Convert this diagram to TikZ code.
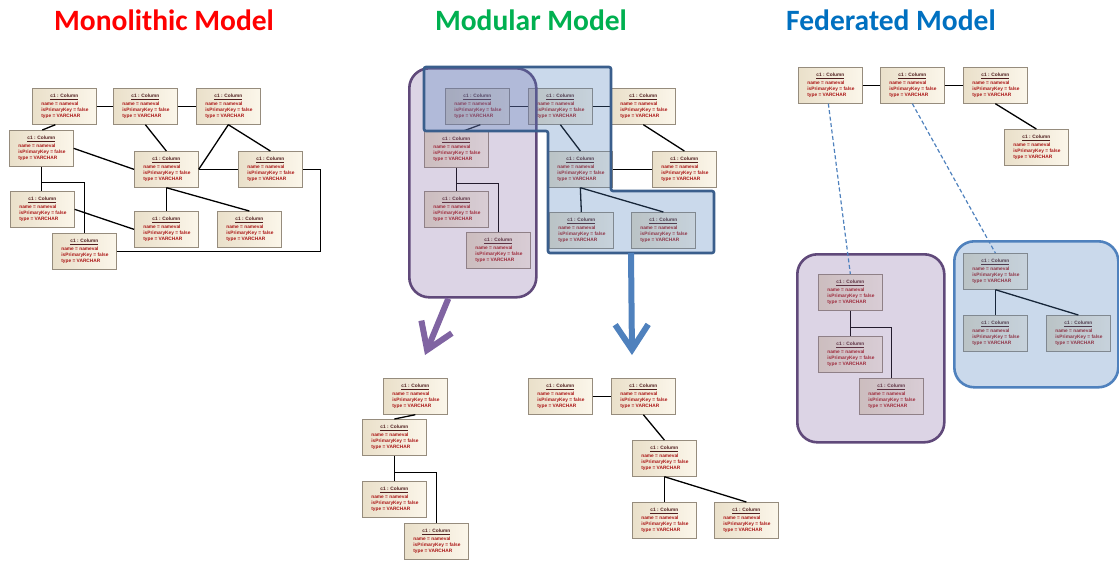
\documentclass[tikz,border=0pt]{standalone}
\usepackage{fontspec}
\newfontfamily\titlefont{Carlito}
\newfontfamily\boxfont{Liberation Sans}
\usetikzlibrary{arrows.meta,shadows}

\definecolor{boxedge}{RGB}{150,140,125}
\definecolor{boxdark}{RGB}{234,224,202}
\definecolor{boxlight}{RGB}{251,246,234}
\definecolor{coltitle}{RGB}{80,30,30}
\definecolor{colval}{RGB}{170,20,20}
\definecolor{monored}{RGB}{255,0,0}
\definecolor{modgreen}{RGB}{0,176,80}
\definecolor{fedblue}{RGB}{0,112,192}
\definecolor{grpurple}{RGB}{128,100,162}
\definecolor{grpurpleline}{RGB}{96,73,122}
\definecolor{grblue}{RGB}{79,129,189}
\definecolor{grblueline}{RGB}{58,94,140}

% contents of one column instance box
\newcommand\coltext{\parbox{50pt}{\centering\color{coltitle}\underline{\textbf{c1 : Column}}\par\vspace{1.5pt}\raggedright\color{colval}\hspace*{2pt}name = nameval\\\hspace*{2pt}isPrimaryKey = false\\\hspace*{2pt}type = VARCHAR}}

\tikzset{
  colbox/.style={draw=boxedge, line width=0.7pt, left color=boxdark, right color=boxlight,
    minimum width=64pt, minimum height=36pt, inner sep=0pt, anchor=north west,
    font=\boxfont\bfseries\fontsize{4.8}{6.3}\selectfont,
    drop shadow={shadow xshift=0.8pt, shadow yshift=-0.8pt, opacity=0.25, fill=black},
    node contents=\coltext},
  link/.style={draw=black, line width=1.3pt},
  fedlink/.style={draw=grblue, line width=1.2pt, dash pattern=on 4pt off 2.5pt},
  title/.style={font=\titlefont\bfseries\fontsize{29.5}{31}\selectfont, anchor=base},
  purplegroup/.style={draw=grpurpleline, line width=2.6pt, fill=grpurple, fill opacity=0.28,
    rounded corners=20pt, anchor=north west, inner sep=0pt},
  bluegroup/.style={draw=grblue, line width=2.6pt, fill=grblue, fill opacity=0.30,
    rounded corners=20pt, anchor=north west, inner sep=0pt},
  bigarrow/.style={line width=6pt, -{Straight Barb[length=25pt, width=33pt]}},
}

\begin{document}
\begin{tikzpicture}[x=1pt, y=-1pt]
\useasboundingbox (0,0) rectangle (1119,560);

% ---------- titles ----------
\node[title, text=monored]  (t1) at (164,30) {Monolithic Model};
\node[title, text=modgreen] (t2) at (531,30) {Modular Model};
\node[title, text=fedblue]  (t3) at (891,30) {Federated Model};

% ---------- monolithic model ----------
\node (A) at (32,88)   [colbox];
\node (B) at (113,88)  [colbox];
\node (C) at (196,88)  [colbox];
\node (D) at (9,130)   [colbox];
\node (E) at (134,151) [colbox];
\node (F) at (238,151) [colbox];
\node (G) at (10,191)  [colbox];
\node (H) at (134,211) [colbox];
\node (I) at (217,211) [colbox];
\node (J) at (52,233)  [colbox];

\draw[link] (A.east) -- (B.west);
\draw[link] (B.east) -- (C.west);
\draw[link] ([xshift=-9pt]A.south) -- ([xshift=1pt]D.north);
\draw[link] (B.south) -- (E.north);
\draw[link] (C.south) -- (E.east);
\draw[link] (C.south) -- (F.north);
\draw[link] (D.east) -- (E.west);
\draw[link] (E.east) -- (F.west);
\draw[link] (D.south) -- (D.south |- G.north);
\draw[link] (D.south) ++(0,16) -| (J.north);
\draw[link] (G.east) -- (H.west);
\draw[link] (E.south) -- (H.north);
\draw[link] (E.south) -- (I.north);
\draw[link] (J.east) -- ++(204,0) |- (F.east);

% ---------- modular model ----------
\node (M1) at (445,88)  [colbox];
\node (M2) at (528,88)  [colbox];
\node (M3) at (611,88)  [colbox];
\node (M4) at (424,131) [colbox];
\node (M5) at (548,151) [colbox];
\node (M6) at (652,151) [colbox];
\node (M7) at (424,191) [colbox];
\node (M8) at (466,232) [colbox];
\node (M9) at (549,212) [colbox];
\node (M10) at (631,212) [colbox];

\draw[link] (M1.east) -- (M2.west);
\draw[link] (M2.east) -- (M3.west);
\draw[link] ([xshift=3pt]M1.south) -- ([xshift=7pt]M4.north);
\draw[link] (M2.south) -- (M5.north);
\draw[link] (M3.south) -- (M6.north);
\draw[link] (M5.east) -- (M6.west);
\draw[link] (M4.south) -- (M4.south |- M7.north);
\draw[link] (M4.south) ++(0,16) -| (M8.north);
\draw[link] (M5.south) -- (M9.north);
\draw[link] (M5.south) -- (M10.north);

% module groups
\node[purplegroup, minimum width=127pt, minimum height=229pt] (modP) at (408,67) {};
\draw[draw=grblueline, line width=2.6pt, fill=grblue, fill opacity=0.30, rounded corners=2pt]
  (424,67) -- (611,67) -- (611,191) -- (714,191) -- (714,253) -- (548,253)
  -- (548,131) -- (424,131) -- cycle;
\coordinate (modBout) at (631,253);
\coordinate (purpleTip) at (425,355);
\coordinate (blueTip) at (632,355);

\draw[bigarrow, draw=grpurple] ([xshift=-24.5pt]modP.south) -- (purpleTip);
\draw[bigarrow, draw=grblue] (modBout) -- (blueTip);

% extracted modules
\node (L1) at (383,378) [colbox];
\node (L2) at (362,419) [colbox];
\node (L3) at (362,481) [colbox];
\node (L4) at (404,523) [colbox];
\draw[link] (L1.south) -- (L2.north);
\draw[link] (L2.south) -- (L2.south |- L3.north);
\draw[link] (L2.south) ++(0,17) -| (L4.north);

\node (R1) at (528,378) [colbox];
\node (R2) at (611,378) [colbox];
\node (R3) at (632,440) [colbox];
\node (R4) at (632,502) [colbox];
\node (R5) at (714,502) [colbox];
\draw[link] (R1.east) -- (R2.west);
\draw[link] (R2.south) -- (R3.north);
\draw[link] (R3.south) -- (R4.north);
\draw[link] (R3.south) -- (R5.north);

% ---------- federated model ----------
\node (F1) at (798,67)  [colbox];
\node (F2) at (880,67)  [colbox];
\node (F3) at (963,67)  [colbox];
\node (F4) at (1004,129) [colbox];
\draw[link] (F1.east) -- (F2.west);
\draw[link] (F2.east) -- (F3.west);
\draw[link] (F3.south) -- (F4.north);

\node (P1) at (818,274) [colbox];
\node (P2) at (818,336) [colbox];
\node (P3) at (859,378) [colbox];
\draw[link] (P1.south) -- (P1.south |- P2.north);
\draw[link] (P1.south) ++(0,17) -| (P3.north);

\node (Q1) at (963,253)  [colbox];
\node (Q2) at (963,315)  [colbox];
\node (Q3) at (1046,315) [colbox];
\draw[link] (Q1.south) -- (Q2.north);
\draw[link] (Q1.south) -- (Q3.north);

\node[purplegroup, minimum width=147pt, minimum height=188pt] (fedP) at (796,253) {};
\node[bluegroup, minimum width=164pt, minimum height=146pt] (fedB) at (953,240) {};

\draw[fedlink] ([xshift=-2pt]F1.south) -- (P1.north);
\draw[fedlink] (F2.south) -- (Q1.north);
\end{tikzpicture}
\end{document}
